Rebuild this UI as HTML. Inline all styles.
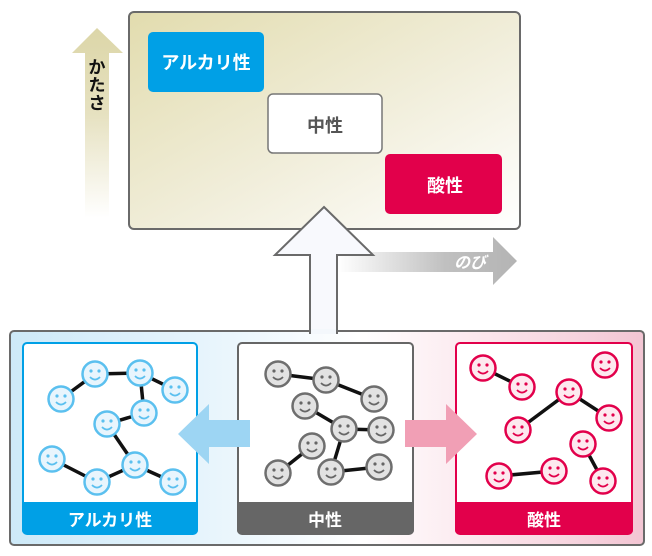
<!DOCTYPE html>
<html><head><meta charset="utf-8"><style>
html,body{margin:0;padding:0;background:#fff;}
svg{display:block;}
text{font-family:"Liberation Sans","Noto Sans CJK JP",sans-serif;font-weight:bold;}
</style></head><body>
<svg width="652" height="556" viewBox="0 0 652 556" xmlns="http://www.w3.org/2000/svg">
<defs>
<linearGradient id="tg" x1="0" y1="0" x2="1" y2="1">
<stop offset="0" stop-color="#e2dcae"/><stop offset="0.55" stop-color="#f1eedb"/><stop offset="1" stop-color="#ffffff"/></linearGradient>
<linearGradient id="kg" x1="0" y1="0" x2="0" y2="1">
<stop offset="0" stop-color="#dcd6a8"/><stop offset="0.45" stop-color="#e6e1c0"/><stop offset="1" stop-color="#ffffff"/></linearGradient>
<linearGradient id="gg" x1="0" y1="0" x2="1" y2="0">
<stop offset="0" stop-color="#ffffff"/><stop offset="0.6" stop-color="#c0c0c0"/><stop offset="1" stop-color="#b4b4b4"/></linearGradient>
<linearGradient id="pg" x1="0" y1="0" x2="1" y2="0">
<stop offset="0" stop-color="#cde9f8"/><stop offset="0.3" stop-color="#e6f4fc"/><stop offset="0.55" stop-color="#ffffff"/><stop offset="0.75" stop-color="#fbe6ec"/><stop offset="1" stop-color="#f3c5d3"/></linearGradient>
<g id="fb"><circle r="12.5" fill="#e8f5fd" stroke="#5bc0ef" stroke-width="2.5"/><circle cx="-4" cy="-3" r="1.6" fill="#5bc0ef"/><circle cx="4" cy="-3" r="1.6" fill="#5bc0ef"/><path d="M-5 3 Q0 8 5 3" fill="none" stroke="#5bc0ef" stroke-width="1.8"/></g>
<g id="fg"><circle r="12.5" fill="#e2e2e2" stroke="#6e6e6e" stroke-width="2.5"/><circle cx="-4" cy="-3" r="1.6" fill="#666"/><circle cx="4" cy="-3" r="1.6" fill="#666"/><path d="M-5 3 Q0 8 5 3" fill="none" stroke="#666" stroke-width="1.8"/></g>
<g id="fr"><circle r="12.5" fill="#fde9ef" stroke="#e2004b" stroke-width="2.5"/><circle cx="-4" cy="-3" r="1.6" fill="#e2004b"/><circle cx="4" cy="-3" r="1.6" fill="#e2004b"/><path d="M-5 3 Q0 8 5 3" fill="none" stroke="#e2004b" stroke-width="1.8"/></g>
</defs>

<polygon points="97,28 123,53 109,53 109,218 85,218 85,53 72,53" fill="url(#kg)"/>
<text x="97" y="73" font-size="17" text-anchor="middle" fill="#111">か</text>
<text x="97" y="91" font-size="17" text-anchor="middle" fill="#111">た</text>
<text x="97" y="109" font-size="17" text-anchor="middle" fill="#111">さ</text>

<rect x="129" y="12" width="391" height="217" rx="5" fill="url(#tg)" stroke="#6a6a6a" stroke-width="2"/>
<rect x="148" y="32" width="116" height="60" rx="5" fill="#00a0e6"/>
<text x="206" y="69" font-size="18" text-anchor="middle" fill="#fff">アルカリ性</text>
<rect x="268" y="94" width="114" height="59" rx="5" fill="#fff" stroke="#777" stroke-width="1.5"/>
<text x="325" y="132" font-size="18" text-anchor="middle" fill="#555">中性</text>
<rect x="385" y="154" width="117" height="60" rx="5" fill="#e2004b"/>
<text x="445" y="192" font-size="18" text-anchor="middle" fill="#fff">酸性</text>

<polygon points="338,252 493,252 493,237 517,261 493,285 493,272 338,272" fill="url(#gg)"/>
<text x="470" y="268" font-size="16" text-anchor="middle" fill="#fff" font-style="italic">のび</text>

<rect x="10" y="331" width="634" height="214" rx="4" fill="url(#pg)" stroke="#6a6a6a" stroke-width="2"/>

<polygon points="324,207 373,255 337,255 337,333 310,333 310,255 275,255" fill="#f8f9fd" stroke="#6a6a6a" stroke-width="2"/>
<rect x="311" y="329" width="25" height="5" fill="#f4f8fc"/>

<rect x="23" y="343" width="174" height="191" rx="4" fill="#fff" stroke="#00a0e6" stroke-width="2"/>
<path d="M22 502 H198 V530 a4 4 0 0 1 -4 4 H26 a4 4 0 0 1 -4 -4 Z" fill="#00a0e6"/>
<text x="110" y="526" font-size="17" text-anchor="middle" fill="#fff">アルカリ性</text>

<rect x="238" y="343" width="175" height="191" rx="4" fill="#fff" stroke="#666" stroke-width="2"/>
<path d="M237 502 H414 V530 a4 4 0 0 1 -4 4 H241 a4 4 0 0 1 -4 -4 Z" fill="#666"/>
<text x="325" y="526" font-size="17" text-anchor="middle" fill="#fff">中性</text>

<rect x="456" y="343" width="176" height="191" rx="4" fill="#fff" stroke="#e2004b" stroke-width="2"/>
<path d="M455 502 H633 V530 a4 4 0 0 1 -4 4 H459 a4 4 0 0 1 -4 -4 Z" fill="#e2004b"/>
<text x="544" y="526" font-size="17" text-anchor="middle" fill="#fff">酸性</text>

<polygon points="250,420 209,420 209,404 178,434 209,464 209,447 250,447" fill="#9dd5f3"/>
<polygon points="405,420 446,420 446,404 477,434 446,464 446,447 405,447" fill="#f19fb5"/>

<g stroke="#111" stroke-width="3.5">
<line x1="61" y1="399" x2="95" y2="374"/><line x1="95" y1="374" x2="140" y2="373"/><line x1="140" y1="373" x2="175" y2="390"/><line x1="140" y1="373" x2="144" y2="413"/><line x1="144" y1="413" x2="107" y2="424"/><line x1="107" y1="424" x2="135" y2="465"/><line x1="52" y1="459" x2="97" y2="482"/><line x1="97" y1="482" x2="135" y2="465"/><line x1="135" y1="465" x2="173" y2="482"/>
<line x1="278" y1="374" x2="326" y2="380"/><line x1="326" y1="380" x2="374" y2="399"/><line x1="305" y1="406" x2="344" y2="429"/><line x1="344" y1="429" x2="381" y2="430"/><line x1="344" y1="429" x2="331" y2="472"/><line x1="312" y1="446" x2="278" y2="473"/><line x1="331" y1="472" x2="379" y2="467"/>
<line x1="483" y1="368" x2="522" y2="387"/><line x1="569" y1="392" x2="518" y2="430"/><line x1="569" y1="392" x2="609" y2="418"/><line x1="583" y1="444" x2="603" y2="481"/><line x1="499" y1="476" x2="554" y2="471"/>
</g>
<use href="#fb" x="61" y="399"/><use href="#fb" x="95" y="374"/><use href="#fb" x="140" y="373"/><use href="#fb" x="175" y="390"/><use href="#fb" x="144" y="413"/><use href="#fb" x="107" y="424"/><use href="#fb" x="52" y="459"/><use href="#fb" x="97" y="482"/><use href="#fb" x="135" y="465"/><use href="#fb" x="173" y="482"/>
<use href="#fg" x="278" y="374"/><use href="#fg" x="326" y="380"/><use href="#fg" x="374" y="399"/><use href="#fg" x="305" y="406"/><use href="#fg" x="344" y="429"/><use href="#fg" x="381" y="430"/><use href="#fg" x="312" y="446"/><use href="#fg" x="278" y="473"/><use href="#fg" x="331" y="472"/><use href="#fg" x="379" y="467"/>
<use href="#fr" x="483" y="368"/><use href="#fr" x="522" y="387"/><use href="#fr" x="569" y="392"/><use href="#fr" x="605" y="365"/><use href="#fr" x="518" y="430"/><use href="#fr" x="609" y="418"/><use href="#fr" x="583" y="444"/><use href="#fr" x="499" y="476"/><use href="#fr" x="554" y="471"/><use href="#fr" x="603" y="481"/>
</svg>
</body></html>
